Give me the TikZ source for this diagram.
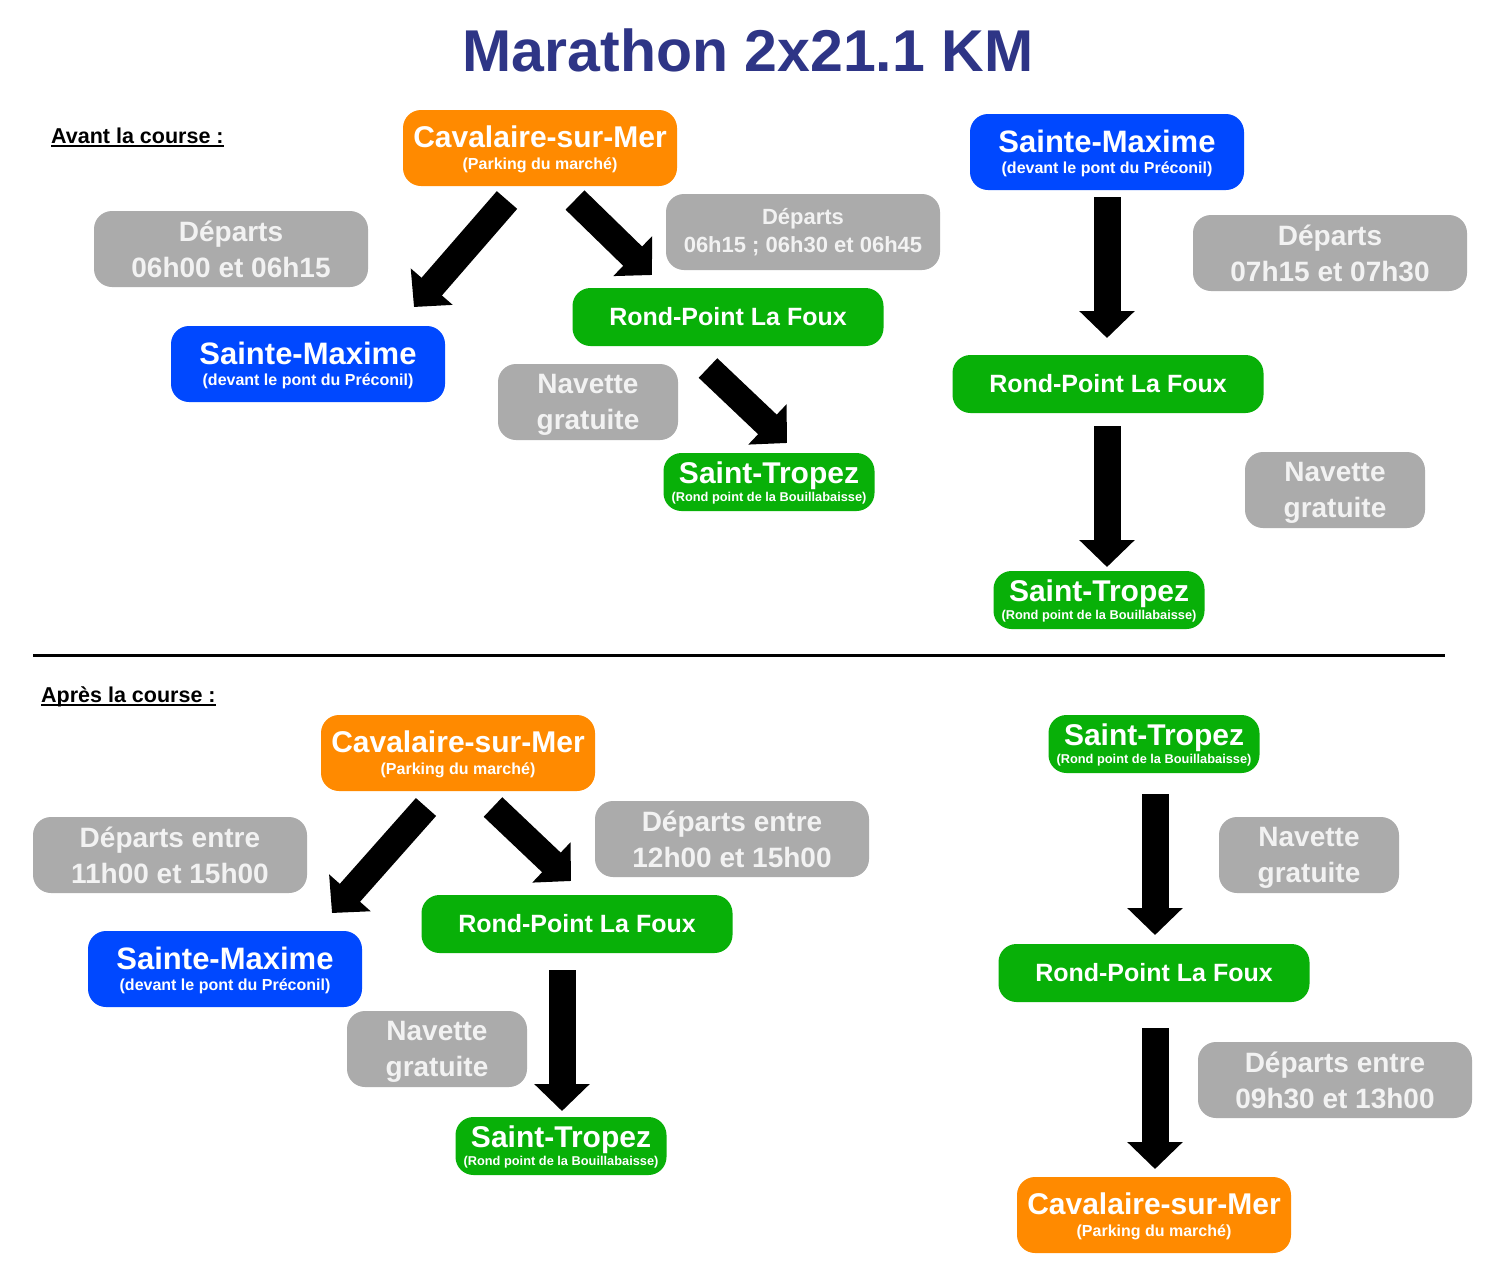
\documentclass[tikz,border=0pt]{standalone}
\usepackage{fontspec}
\setmainfont{Liberation Sans}
\usetikzlibrary{arrows.meta,positioning}
\definecolor{titleblue}{RGB}{46,53,134}
\definecolor{cavorange}{RGB}{255,138,0}
\definecolor{maxblue}{RGB}{0,72,255}
\definecolor{roadgreen}{RGB}{8,176,8}
\definecolor{infogray}{RGB}{171,171,171}
\definecolor{infotext}{RGB}{242,242,242}
\newcommand{\placename}[2]{{\fontsize{#1}{#1}\selectfont #2}}

\begin{document}
\begin{tikzpicture}[x=1pt,y=-1pt,
    box/.style={rounded corners=18pt,inner sep=0pt,align=center,text=white},
    bigbox/.style={box,minimum width=274pt,minimum height=76pt},
    cavbox/.style={bigbox,fill=cavorange,text depth=-0.5pt,font=\bfseries\fontsize{16}{22}\selectfont},
    maxbox/.style={bigbox,fill=maxblue,text depth=-2.5pt,font=\bfseries\fontsize{16}{21}\selectfont},
    roadbox/.style={box,fill=roadgreen,minimum width=311pt,minimum height=58pt,
                    font=\bfseries\fontsize{25}{25}\selectfont},
    tropbox/.style={box,fill=roadgreen,minimum width=211pt,minimum height=58pt,text depth=-1.3pt,
                    font=\bfseries\fontsize{12.8}{18}\selectfont},
    infobox/.style={bigbox,fill=infogray,text=infotext,font=\bfseries\fontsize{28}{36}\selectfont},
    navbox/.style={infobox,minimum width=180pt,text depth=1pt},
    bigarrow/.style={line width=27pt,-{Triangle[length=27pt,width=54pt]}}]
  \tikzstyle{heading}=[inner sep=0pt,anchor=base west,font=\bfseries\fontsize{21.5}{21.5}\selectfont]

  \useasboundingbox[fill=white] (0,0) rectangle (1500,1288);

  \node[anchor=base,text=titleblue,font=\bfseries\fontsize{59}{59}\selectfont]
       (title) at (748,71) {Marathon 2x21.1 KM};

  % avant la course
  \node[heading] (avant) at (51,143) {Avant la course :};
  \draw[line width=2pt] ([yshift=-3pt]avant.base west) -- ([yshift=-3pt]avant.base east);

  \node[cavbox]  (cavT)  at (540,148)   {\placename{30}{Cavalaire-sur-Mer}\\(Parking du marché)};
  \node[infobox] (depT1) at (231,249)   {Départs\\06h00 et 06h15};
  \node[maxbox]  (maxT)  at (308,364)   {\placename{31}{Sainte-Maxime}\\(devant le pont du Préconil)};
  \node[infobox,font=\bfseries\fontsize{22}{28}\selectfont]
                 (depT2) at (803,232)   {Départs\\06h15 ; 06h30 et 06h45};
  \node[roadbox] (foxT)  at (728,317)   {Rond-Point La Foux};
  \node[navbox]  (navT)  at (588,402)   {Navette\\gratuite};
  \node[tropbox] (tropT) at (769,482)   {\placename{30}{Saint-Tropez}\\(Rond point de la Bouillabaisse)};

  \node[maxbox]  (maxR)  at (1107,152)  {\placename{31}{Sainte-Maxime}\\(devant le pont du Préconil)};
  \node[infobox] (depR)  at (1330,253)  {Départs\\07h15 et 07h30};
  \node[roadbox] (foxR)  at (1108,384)  {Rond-Point La Foux};
  \node[navbox]  (navR)  at (1335,490)  {Navette\\gratuite};
  \node[tropbox] (tropR) at (1099,600)  {\placename{30}{Saint-Tropez}\\(Rond point de la Bouillabaisse)};

  \coordinate (sepL) at (33,655);
  \coordinate (sepR) at (1445,655);
  \draw[line width=3pt] (sepL) -- (sepR);

  % apres la course
  \node[heading] (apres) at (41,702) {Après la course :};
  \draw[line width=2pt] ([yshift=-3pt]apres.base west) -- ([yshift=-3pt]apres.base east);

  \node[cavbox]  (cavB)  at (458,753)   {\placename{30}{Cavalaire-sur-Mer}\\(Parking du marché)};
  \node[infobox] (depB1) at (170,855)   {Départs entre\\11h00 et 15h00};
  \node[maxbox]  (maxB)  at (225,969)   {\placename{31}{Sainte-Maxime}\\(devant le pont du Préconil)};
  \node[infobox] (depB2) at (732,839)   {Départs entre\\12h00 et 15h00};
  \node[roadbox] (foxB)  at (577,924)   {Rond-Point La Foux};
  \node[navbox]  (navB)  at (437,1049)  {Navette\\gratuite};
  \node[tropbox] (tropB) at (561,1146)  {\placename{30}{Saint-Tropez}\\(Rond point de la Bouillabaisse)};

  \node[tropbox] (tropR2) at (1154,744) {\placename{30}{Saint-Tropez}\\(Rond point de la Bouillabaisse)};
  \node[navbox]  (navR2)  at (1309,855) {Navette\\gratuite};
  \node[roadbox] (foxR2)  at (1154,973) {Rond-Point La Foux};
  \node[infobox] (depR2)  at (1335,1080) {Départs entre\\09h30 et 13h00};
  \node[cavbox]  (cavR2)  at (1154,1215) {\placename{30}{Cavalaire-sur-Mer}\\(Parking du marché)};

  % arrow ends
  \coordinate (a1) at (507,200);   \coordinate (a1t) at (414,307);
  \coordinate (a2) at (575,200);   \coordinate (a2t) at (652,275);
  \coordinate (a3) at (708,368);   \coordinate (a3t) at (787,443);
  \coordinate (a4) at (1107,197);  \coordinate (a4t) at (1107,338);
  \coordinate (a5) at (1107,426);  \coordinate (a5t) at (1107,567);
  \coordinate (b1) at (426,807);   \coordinate (b1t) at (332,913);
  \coordinate (b2) at (493,807);   \coordinate (b2t) at (571,881);
  \coordinate (b3) at (562,970);   \coordinate (b3t) at (562,1111);
  \coordinate (b4) at (1155,794);  \coordinate (b4t) at (1155,935);
  \coordinate (b5) at (1155,1028); \coordinate (b5t) at (1155,1169);

  \foreach \s in {a1,a2,a3,a4,a5,b1,b2,b3,b4,b5}
    \draw[bigarrow] (\s) -- (\s t);
\end{tikzpicture}
\end{document}
